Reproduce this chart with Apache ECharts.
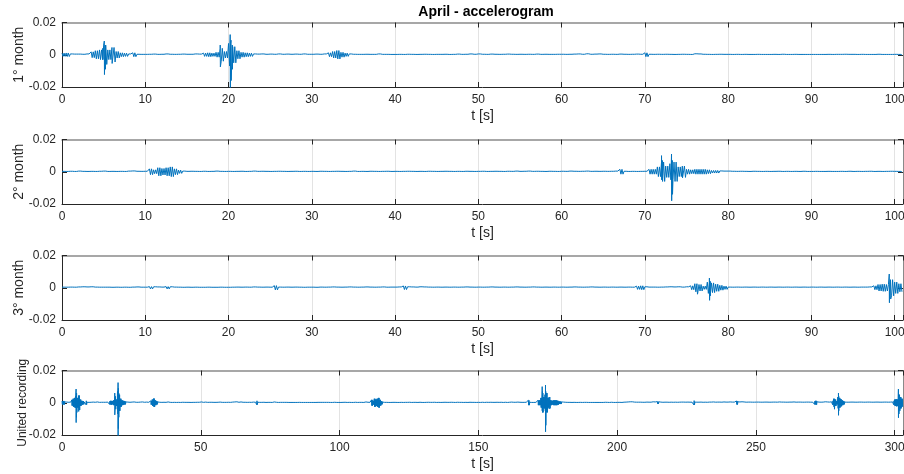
<!DOCTYPE html>
<html><head><meta charset="utf-8">
<script src="https://cdn.jsdelivr.net/npm/echarts@6/dist/echarts.min.js"></script>
<style>html,body{margin:0;padding:0;background:#fff}#c{width:904px;height:474px}</style>
</head><body><div id="c"></div>
<script>
// ---- data (amplitudes in units of 0.001, envelope per 0.5 s bin) ----
const binStep = 0.5;
const monthLength = 101;
const titleText = 'April - accelerogram';
const yNames = ['1° month', '2° month', '3° month', 'United recording'];
const xName = 't [s]';

const m1Amp = [
 1.0,1.1,0.5,0.4,0.4,0.3,0.5,1.8,2.5,3.0,6.0,3.0,4.5,2.0,1.2,1.0,0.5,1.2,0.3,0.25,
 0.25,0.3,0.4,0.25,0.3,0.5,0.3,0.25,0.3,0.4,0.3,0.3,0.5,0.4,1.0,1.2,1.0,1.5,4.0,2.0,
 7.0,5.0,2.5,1.5,1.2,1.0,0.5,0.4,0.5,0.3,0.4,0.3,0.5,0.3,0.4,0.3,0.4,0.3,0.5,0.3,
 0.3,0.4,0.3,0.5,1.2,2.0,2.6,1.5,1.0,0.5,0.3,0.25,0.25,0.3,0.25,0.25,0.5,0.25,0.25,0.2,
 0.2,0.25,0.2,0.3,0.25,0.2,0.25,0.3,0.25,0.2,0.25,0.25,0.3,0.2,0.25,0.4,0.25,0.3,0.5,0.3,
 0.5,0.3,0.25,0.4,0.3,0.25,0.3,0.4,0.3,0.25,0.3,0.25,0.3,0.25,0.4,0.25,0.3,0.25,0.25,0.3,
 0.3,0.25,0.3,0.4,0.5,0.3,0.6,0.3,0.4,0.5,0.3,0.25,0.3,0.25,0.4,0.3,0.25,0.3,0.4,0.3,
 1.2,0.3,0.25,0.3,0.25,0.3,0.25,0.2,0.25,0.3,0.25,0.2,0.6,0.5,0.3,0.25,0.2,0.25,0.3,0.25,
 0.25,0.2,0.25,0.2,0.25,0.2,0.2,0.25,0.2,0.2,0.2,0.25,0.2,0.3,0.2,0.2,0.25,0.2,0.2,0.2,
 0.2,0.2,0.2,0.2,0.25,0.2,0.25,0.25,0.3,0.25,0.25,0.2,0.25,0.2,0.2,0.2,0.3,0.2,0.2,0.2,
 0.25,0.2
];
const m1Peaks = [[4.9,4,-3],[5.08,8.5,-12.3],[5.2,6,-9],[6.0,4.2,-5.4],[19.0,6,-7.5],[20.2,12.5,-21],[20.3,9,-16],[20.45,6,-9]];

const m2Amp = [
 0.25,0.2,0.3,0.2,0.4,0.25,0.2,0.25,0.2,0.3,0.4,0.2,0.25,0.2,0.25,0.2,0.4,0.5,0.3,0.25,
 0.3,1.8,1.2,2.5,2.0,2.5,3.0,1.8,1.0,0.4,0.25,0.3,0.25,0.2,0.3,0.2,0.25,0.4,0.25,0.2,
 0.25,0.2,0.25,0.3,0.2,0.25,0.4,0.25,0.3,0.25,0.2,0.25,0.3,0.25,0.2,0.25,0.3,0.2,0.25,0.2,
 0.25,0.2,0.3,0.25,0.2,0.25,0.3,0.25,0.2,0.25,0.4,0.2,0.25,0.2,0.3,0.25,0.2,0.25,0.3,0.2,
 0.25,0.2,0.25,0.3,0.25,0.2,0.25,0.2,0.3,0.25,0.2,0.25,0.3,0.25,0.2,0.25,0.2,0.3,0.25,0.2,
 0.25,0.3,0.2,0.25,0.3,0.25,0.2,0.3,0.25,0.4,0.25,0.3,0.4,0.25,0.3,0.25,0.2,0.3,0.25,0.2,
 0.3,0.25,0.4,0.3,0.25,0.3,0.4,0.25,0.3,0.25,0.3,0.25,0.3,0.4,1.5,0.3,0.2,0.25,0.2,0.25,
 0.3,1.5,1.5,3.0,6.0,3.5,5.0,6.0,3.0,3.5,1.5,1.2,1.5,1.5,1.5,1.2,0.8,0.8,0.5,0.4,
 0.4,0.3,0.25,0.3,0.25,0.2,0.3,0.25,0.2,0.25,0.2,0.25,0.3,0.2,0.25,0.2,0.25,0.2,0.3,0.2,
 0.2,0.25,0.2,0.2,0.25,0.2,0.2,0.25,0.2,0.3,0.2,0.25,0.2,0.25,0.3,0.2,0.25,0.2,0.25,0.3,
 0.25,0.2
];
const m2Peaks = [[72.0,10,-5],[72.1,7,-4.5],[73.2,11,-18],[73.3,7,-14],[74.5,4.2,-3.8]];

const m3Amp = [
 0.35,0.35,0.4,0.35,0.5,0.6,0.5,0.6,0.4,0.35,0.35,0.35,0.3,0.35,0.3,0.35,0.3,0.4,0.5,0.35,
 0.35,0.7,0.6,0.5,0.4,0.7,0.6,0.4,0.35,0.3,0.35,0.3,0.35,0.3,0.3,0.35,0.3,0.3,0.35,0.3,
 0.3,0.35,0.4,0.35,0.4,0.35,0.5,0.4,0.35,0.4,0.35,1.3,0.4,0.35,0.4,0.35,0.4,0.35,0.3,0.35,
 0.35,0.3,0.4,0.35,0.4,0.5,0.4,0.35,0.4,0.5,0.4,0.35,0.4,0.5,0.4,0.35,0.4,0.5,0.35,0.4,
 0.4,0.5,1.1,0.6,0.5,0.4,0.6,0.5,0.4,0.35,0.4,0.35,0.4,0.35,0.4,0.35,0.4,0.5,0.4,0.35,
 0.4,0.35,0.4,0.5,0.4,0.35,0.4,0.35,0.4,0.5,0.4,0.35,0.4,0.5,0.4,0.35,0.4,0.35,0.4,0.35,
 0.4,0.35,0.4,0.5,0.4,0.35,0.4,0.5,0.4,0.35,0.4,0.35,0.4,0.35,0.4,0.35,0.4,0.35,1.0,1.2,
 0.6,0.4,0.4,0.35,0.4,0.5,0.6,0.5,0.6,0.4,0.6,1.2,2.5,2.0,1.0,3.5,3.0,2.2,1.5,1.0,
 0.4,0.35,0.4,0.35,0.4,0.35,0.4,0.35,0.4,0.35,0.4,0.35,0.4,0.35,0.4,0.35,0.4,0.35,0.4,0.35,
 0.4,0.35,0.4,0.35,0.4,0.35,0.4,0.35,0.4,0.35,0.4,0.35,0.4,0.4,0.5,1.2,2.0,2.2,2.0,5.0,
 3.5,2.5
];
const m3Peaks = [[76.3,3.5,-4],[77.75,6,-7.8],[77.85,4,-5],[99.35,8.5,-9.3],[99.5,5,-7]];

// ---- build traces: each bin's envelope is traced up/down across the bin ----
function buildTrace(amp, peaks, offset) {
  const pts = [];
  amp.forEach((a, i) => {
    const t = i * binStep;
    pts.push([t, a]); pts.push([t + binStep * 0.25, -a]);
    pts.push([t + binStep * 0.5, a]); pts.push([t + binStep * 0.75, -a]);
  });
  peaks.forEach(p => { pts.push([p[0], p[1]]); pts.push([p[0] + 0.02, p[2]]); });
  pts.sort((p, q) => p[0] - q[0]);
  return pts.map(p => [p[0] + offset, p[1] / 1000]);
}
const tr1 = buildTrace(m1Amp, m1Peaks, 0);
const tr2 = buildTrace(m2Amp, m2Peaks, 0);
const tr3 = buildTrace(m3Amp, m3Peaks, 0);
const trAll = buildTrace(m1Amp, m1Peaks, 0)
  .concat(buildTrace(m2Amp, m2Peaks, monthLength))
  .concat(buildTrace(m3Amp, m3Peaks, 2 * monthLength));
const traces = [tr1, tr2, tr3, trAll];
const xMax = [monthLength, monthLength, monthLength, 3 * monthLength];
const xInt = [10, 10, 10, 50];

// ---- chart ----
const font = 'Liberation Sans, Arial, Helvetica, sans-serif';
const dark = '#262626';
const tops = [22.5, 139.5, 255.5, 370.5];
const grids = [], xAxes = [], yAxes = [], series = [];
for (let i = 0; i < 4; i++) {
  grids.push({ left: 62, width: 841, top: tops[i], height: 64.5, containLabel: false, outerBoundsMode: 'none' });
  xAxes.push({
    type: 'value', gridIndex: i, position: 'bottom', min: 0, max: xMax[i], interval: xInt[i],
    name: xName, nameLocation: 'middle', nameGap: 22, nameMoveOverlap: false,
    nameTextStyle: { fontFamily: font, fontSize: 14, color: dark },
    axisLine: { show: true, onZero: false, lineStyle: { color: dark, width: 1 } },
    axisTick: { show: true, inside: true, length: 5, lineStyle: { color: dark } },
    axisLabel: { margin: 7, fontFamily: font, fontSize: 12, color: dark,
      formatter: v => (Math.abs(v % xInt[i]) < 1e-9 ? String(v) : '') },
    splitLine: { show: true, lineStyle: { color: '#e3e3e3', width: 1 } }
  });
  xAxes.push({
    type: 'value', gridIndex: i, position: 'top', min: 0, max: xMax[i], interval: xInt[i],
    axisLine: { show: true, onZero: false, lineStyle: { color: '#8a8a8a', width: 1.5 } },
    axisTick: { show: true, inside: true, length: 5, lineStyle: { color: dark } },
    axisLabel: { show: false }, splitLine: { show: false }
  });
  yAxes.push({
    type: 'value', gridIndex: i, position: 'left', min: -0.02, max: 0.02, interval: 0.02,
    name: yNames[i], nameLocation: 'middle', nameGap: i === 3 ? 33 : 36, nameMoveOverlap: false,
    nameTextStyle: { fontFamily: font, fontSize: i === 3 ? 12 : 14, color: dark },
    axisLine: { show: true, onZero: false, lineStyle: { color: dark, width: 1 } },
    axisTick: { show: true, inside: true, length: 5, lineStyle: { color: dark } },
    axisLabel: { margin: 6, fontFamily: font, fontSize: 12, color: dark,
      formatter: v => (Math.abs(v) < 1e-12 ? '0' : String(+v.toFixed(2))) },
    splitLine: { show: false }
  });
  yAxes.push({
    type: 'value', gridIndex: i, position: 'right', min: -0.02, max: 0.02, interval: 0.02,
    axisLine: { show: true, onZero: false, lineStyle: { color: '#8a8a8a', width: 1 } },
    axisTick: { show: true, inside: true, length: 5, lineStyle: { color: dark } },
    axisLabel: { show: false }, splitLine: { show: false }
  });
  series.push({
    type: 'line', xAxisIndex: 2 * i, yAxisIndex: 2 * i, data: traces[i],
    showSymbol: false, symbol: 'none', sampling: null, clip: true, animation: false,
    lineStyle: { color: '#0072BD', width: 1 }
  });
}

const chart = echarts.init(document.getElementById('c'), null, { renderer: 'canvas' });
chart.setOption({
  backgroundColor: '#fff',
  animation: false,
  grid: grids, xAxis: xAxes, yAxis: yAxes, series: series,
  graphic: [{
    type: 'text', x: 486, y: 12.5,
    style: { text: titleText, font: 'bold 14px ' + font, fill: '#000',
      align: 'center', verticalAlign: 'middle', textAlign: 'center', textVerticalAlign: 'middle' }
  }]
});
</script>
</body></html>
